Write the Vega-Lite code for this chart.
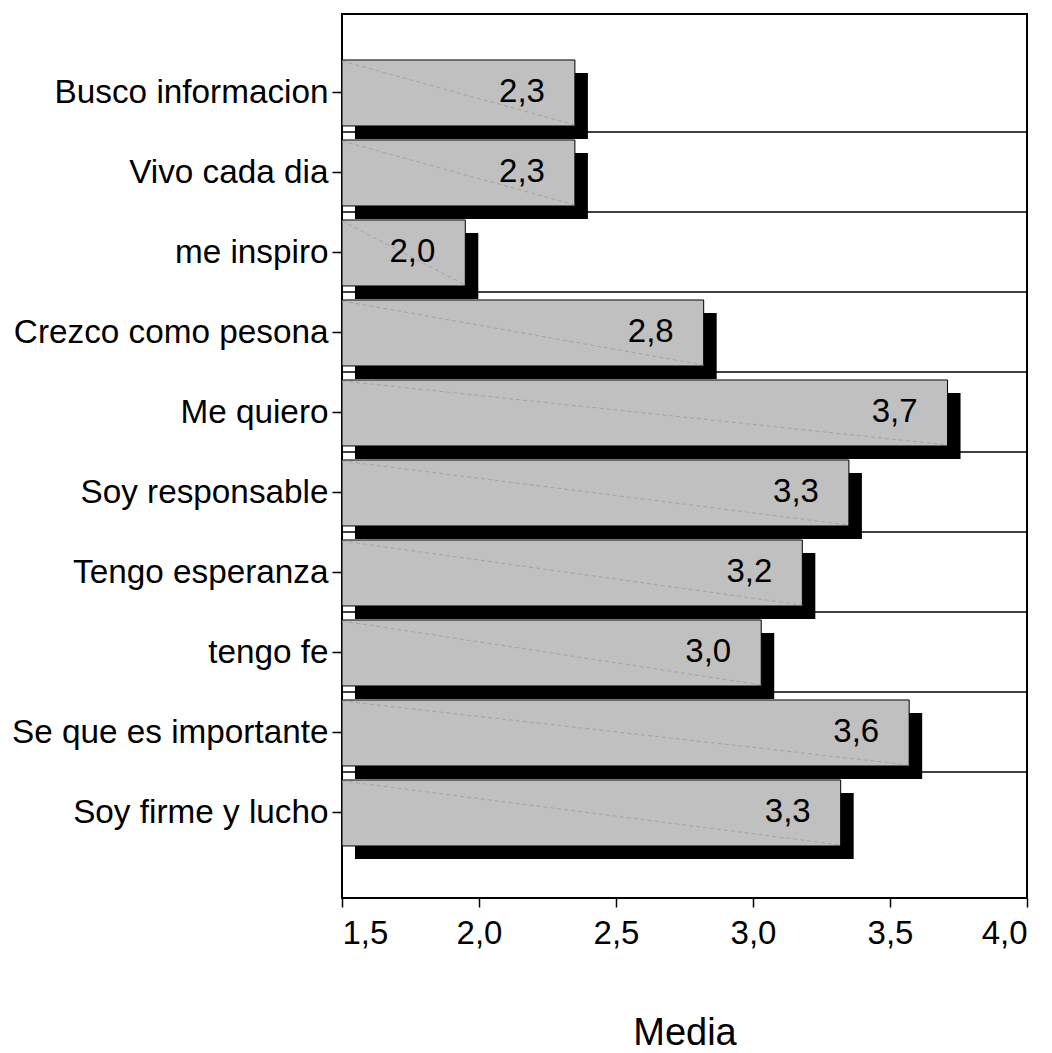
{
  "$schema": "https://vega.github.io/schema/vega-lite/v6.json",
  "width": 685,
  "height": 884,
  "autosize": "none",
  "padding": {"left": 342, "top": 14, "right": 25, "bottom": 155},
  "background": "white",
  "config": {
    "font": "Liberation Sans",
    "view": {"stroke": "black", "strokeWidth": 2},
    "axis": {"grid": false, "labelColor": "black", "tickColor": "black", "titleColor": "black", "labelFont": "Liberation Sans", "titleFont": "Liberation Sans"}
  },
  "data": {
    "values": [
      {"cat": "Busco informacion", "lo": 1.5, "value": 2.35, "label": "2,3"},
      {"cat": "Vivo cada dia", "lo": 1.5, "value": 2.35, "label": "2,3"},
      {"cat": "me inspiro", "lo": 1.5, "value": 1.95, "label": "2,0"},
      {"cat": "Crezco como pesona", "lo": 1.5, "value": 2.82, "label": "2,8"},
      {"cat": "Me quiero", "lo": 1.5, "value": 3.71, "label": "3,7"},
      {"cat": "Soy responsable", "lo": 1.5, "value": 3.35, "label": "3,3"},
      {"cat": "Tengo esperanza", "lo": 1.5, "value": 3.18, "label": "3,2"},
      {"cat": "tengo fe", "lo": 1.5, "value": 3.03, "label": "3,0"},
      {"cat": "Se que es importante", "lo": 1.5, "value": 3.57, "label": "3,6"},
      {"cat": "Soy firme y lucho", "lo": 1.5, "value": 3.32, "label": "3,3"}
    ]
  },
  "encoding": {
    "y": {
      "field": "cat",
      "type": "nominal",
      "sort": null,
      "scale": {"paddingInner": 0, "paddingOuter": 0.525, "align": 0.464},
      "axis": {"title": null, "labelFontSize": 33.3, "labelLimit": 0, "tickSize": 10, "tickWidth": 1.5, "labelPadding": 4, "domain": false}
    }
  },
  "layer": [
    {
      "transform": [{"filter": "datum.cat != 'Soy firme y lucho'"}],
      "mark": {"type": "rule", "color": "black", "strokeWidth": 1.5, "yOffset": 39},
      "encoding": {}
    },
    {
      "mark": {"type": "bar", "color": "black", "height": 66, "xOffset": 13, "x2Offset": 13, "yOffset": 13},
      "encoding": {
        "x": {"field": "lo", "type": "quantitative"},
        "x2": {"field": "value"}
      }
    },
    {
      "mark": {"type": "bar", "color": "#c0c0c0", "stroke": "black", "strokeWidth": 1, "height": 66},
      "encoding": {
        "x": {
          "field": "lo",
          "type": "quantitative",
          "scale": {"domain": [1.5, 4.0], "nice": false, "zero": false},
          "axis": {
            "values": [1.5, 2.0, 2.5, 3.0, 3.5, 4.0],
            "labelExpr": "replace(format(datum.value, '.1f'), '.', ',')",
            "labelFontSize": 33,
            "tickSize": 9,
            "tickWidth": 1.5,
            "labelPadding": 10,
            "domain": false,
            "title": "Media",
            "titleFontSize": 38,
            "titleFontWeight": "normal",
            "titlePadding": 64
          }
        },
        "x2": {"field": "value"}
      }
    },
    {
      "mark": {"type": "rule", "color": "#9a9a9a", "strokeWidth": 0.8, "strokeDash": [4, 3], "yOffset": -32, "y2Offset": 32},
      "encoding": {
        "x": {"field": "lo", "type": "quantitative"},
        "x2": {"field": "value"},
        "y2": {"field": "cat"}
      }
    },
    {
      "mark": {"type": "text", "align": "right", "baseline": "middle", "fontSize": 33, "dx": -30, "dy": -1, "color": "black"},
      "encoding": {
        "x": {"field": "value", "type": "quantitative"},
        "text": {"field": "label"}
      }
    }
  ]
}
